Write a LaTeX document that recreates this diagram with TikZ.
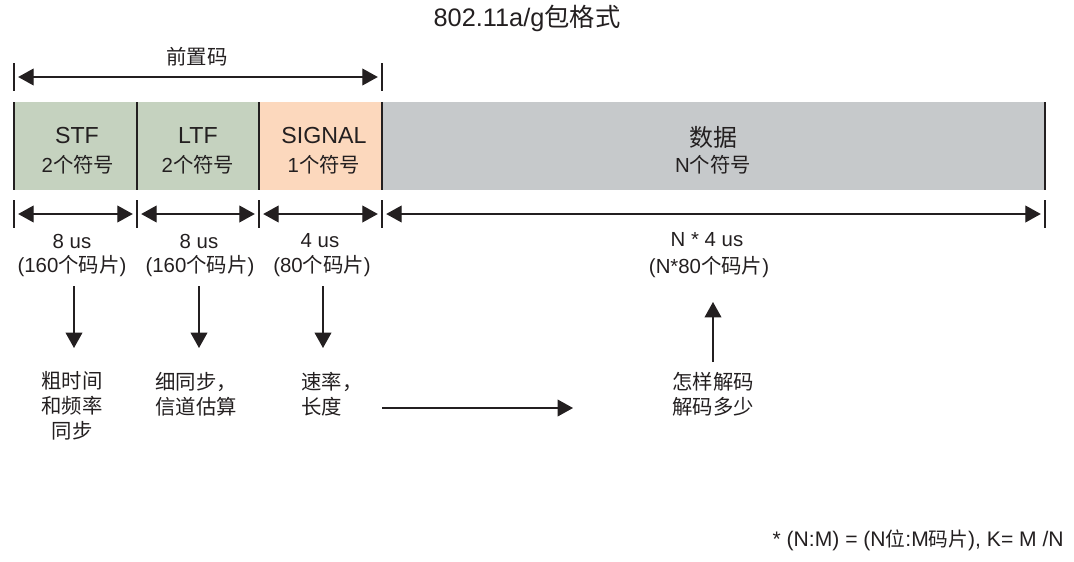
\documentclass[tikz,border=0pt]{standalone}
\usepackage{fontspec}
\setmainfont{Liberation Sans}
\newfontfamily\cjk{Noto Sans CJK SC}
\usetikzlibrary{arrows.meta}
\definecolor{vert}{HTML}{C5D2BF}
\definecolor{saumon}{HTML}{FCD8BD}
\definecolor{gris}{HTML}{C6C9CB}
\definecolor{encre}{HTML}{231F20}
\begin{document}
\begin{tikzpicture}  % ------ Format de trame 802.11a/g --------
      [x=0.025cm,y=-0.025cm,color=encre,
       fleche/.style={line width=.9pt,-{Triangle[length=11pt,width=12pt]}},
       cote/.style={line width=.9pt,{Triangle[length=11pt,width=12pt]}-{Triangle[length=11pt,width=12pt]},
                    shorten <=3pt,shorten >=3pt},
       trait/.style={line width=1.4pt},
       txt/.style={inner sep=0pt,align=center,font=\fontsize{14.5}{17.8}\selectfont},
       zh/.style={inner sep=0pt,align=center,font=\cjk\fontsize{14.5}{17.8}\selectfont},
       gros/.style={inner sep=0pt,font=\fontsize{16.5}{20}\selectfont}]
\useasboundingbox (0,0) rectangle (1074,561);
    % champs
    \fill[vert]   (14,102) rectangle (137,190);
    \fill[vert]   (137,102) rectangle (259,190);
    \fill[saumon] (259,102) rectangle (382,190);
    \fill[gris]   (382,102) rectangle (1045,190);
    \foreach \x in {14,137,259,382,1045} \draw[trait] (\x,102) -- (\x,190);
    % reperes et cotes
    \foreach \x/\n in {14/0,137/1,259/2,382/3,1045/4} {
       \draw[trait] (\x,200) -- (\x,228);
       \coordinate (R\n) at (\x,214); }
    \draw[trait] (14,63) -- (14,91) ; \draw[trait] (382,63) -- (382,91) ;
    \coordinate (P0) at (14,77); \coordinate (P1) at (382,77);
    \draw[cote] (P0) -- (P1) ;  % preambule
    \foreach \a/\b in {0/1,1/2,2/3,3/4} \draw[cote] (R\a) -- (R\b) ;
    % textes
    \node[txt] (titre) at (527,18) {\fontsize{18}{20}\selectfont 802.11a/g{\cjk 包格式}};
    \node[zh] (pre) at (197,57) {前置码};
    \node[gros] (stf) at (77,136) {STF};
    \node[txt] (stfn) at (78,165) {2{\cjk 个符号}};
    \node[gros] (ltf) at (198,136) {LTF};
    \node[txt] (ltfn) at (198,165) {2{\cjk 个符号}};
    \node[gros] (sig) at (324,136) {SIGNAL};
    \node[txt] (sign) at (324,165) {1{\cjk 个符号}};
    \node[zh,font=\cjk\fontsize{17}{20}\selectfont] (data) at (713,137) {数据};
    \node[txt] (datan) at (713,165) {N{\cjk 个符号}};
    % durees
    \node[txt] (d1) at (72,241) {8 us};   \node[txt] (c1) at (72,266) {(160{\cjk 个码片})};
    \node[txt] (d2) at (199,241) {8 us};  \node[txt] (c2) at (200,266) {(160{\cjk 个码片})};
    \node[txt] (d3) at (320,241) {4 us};  \node[txt] (c3) at (322,266) {(80{\cjk 个码片})};
    \node[txt] (d4) at (707,240) {N * 4 us}; \node[txt] (c4) at (709,267) {(N*80{\cjk 个码片})};
    % fonctions
    \node[zh] (b1) at (72,406) {粗时间\\和频率\\同步};
    \node[zh,align=left,anchor=west] (b2) at (155,394) {细同步，\\信道估算};
    \node[zh,align=left,anchor=west] (b3) at (301,394) {速率，\\长度};
    \node[zh] (b4) at (713,394) {怎样解码\\解码多少};
    \foreach \x/\n in {74/1,199/2,323/3} {
       \coordinate (h\n) at (\x,286); \coordinate (f\n) at (\x,348);
       \draw[fleche] (h\n) -- (f\n) ; }
    \coordinate (h4) at (713,362); \coordinate (f4) at (713,302);
    \draw[fleche] (h4) -- (f4) ;
    \coordinate (g0) at (382,408); \coordinate (g1) at (573,408);
    \draw[fleche] (g0) -- (g1) ;
    \node[txt,anchor=east] (note) at (1064,540)
       {\fontsize{15}{17}\selectfont * (N:M) = (N{\cjk\fontsize{14}{17}\selectfont 位}:M{\cjk\fontsize{14}{17}\selectfont 码片}), K= M /N};
\end{tikzpicture}
\end{document}
